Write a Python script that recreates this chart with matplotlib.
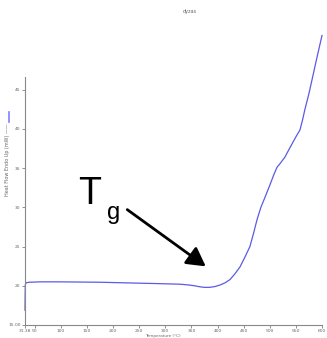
import matplotlib
matplotlib.use("Agg")
import matplotlib.pyplot as plt

temperature = [31.38, 31.5, 31.7, 32.0, 33.0, 35.0, 40.0, 60.0, 98.0, 175.0, 271.0, 300.0, 328.0,
               345.0, 356.0, 366.0, 375.0, 385.0, 395.0, 405.0, 415.0, 424.0, 433.0, 443.0,
               452.0, 462.0, 469.0, 475.5, 483.0, 491.0, 500.0, 508.0, 513.8, 520.0, 529.0,
               537.0, 544.4, 551.0, 557.8, 563.0, 567.0, 575.0, 582.7, 590.0, 600.0]
heat_flow = [16.9, 17.8, 19.0, 20.1, 20.35, 20.4, 20.45, 20.5, 20.5, 20.45, 20.3, 20.25, 20.2,
             20.1, 20.0, 19.87, 19.8, 19.8, 19.9, 20.1, 20.4, 20.8, 21.5, 22.4,
             23.6, 25.0, 26.7, 28.4, 30.0, 31.3, 32.8, 34.2, 35.1, 35.6, 36.4,
             37.4, 38.3, 39.1, 39.85, 41.2, 42.4, 44.5, 46.8, 49.0, 51.9]

xticks = [31.38, 50, 100, 150, 200, 250, 300, 350, 400, 450, 500, 550, 600]
xtick_labels = ["31.38", "50", "100", "150", "200", "250", "300", "350", "400", "450", "500", "550", "600"]
yticks = [15, 20, 25, 30, 35, 40, 45]
ytick_labels = ["15.00", "20", "25", "30", "35", "40", "45"]

fig = plt.figure(figsize=(3.27, 3.38), dpi=100)
ax = fig.add_axes([25/327, 1-325/338, (322-25)/327, (325-30)/338])
ax.plot(temperature, heat_flow, color="#5a5ae6", lw=0.9, clip_on=False)
ax.set_xlim(31.38, 600)
ax.set_ylim(15, 52.6)
for s in ["top", "right"]:
    ax.spines[s].set_visible(False)
ax.spines["left"].set_bounds(15, 46.6)
ax.spines["left"].set_color("#888888")
ax.spines["bottom"].set_color("#888888")
ax.spines["left"].set_linewidth(0.8)
ax.spines["bottom"].set_linewidth(0.8)
ax.set_xticks(xticks)
ax.set_xticklabels(xtick_labels)
ax.set_yticks(yticks)
ax.set_yticklabels(ytick_labels)
ax.tick_params(axis="both", labelsize=3.2, colors="#666666", length=2, width=0.5, pad=1.2)

fig.text(163/327, 1-336.5/338, "Temperature (°C)", fontsize=3.0, color="#666666", ha="center", va="center")
fig.text(190/327, 1-12/338, "dyzas", fontsize=3.5, color="#666666", ha="center", va="center")
fig.text(8/327, 1-160/338, "Heat Flow Endo Up (mW) ——", fontsize=3.5, color="#666666",
         ha="center", va="center", rotation=90)
fig.add_artist(plt.Line2D([9/327, 9/327], [1-122/338, 1-112/338], color="#8080ff", lw=1.2))

fig.text(78/327, 1-194/338, "T", fontsize=27, family="Liberation Sans", ha="left", va="center")
fig.text(107/327, 1-213/338, "g", fontsize=17, family="Liberation Sans", ha="left", va="center")
fig.add_artist(matplotlib.patches.FancyArrowPatch(
    (125/327, 1-208/338), (208/327, 1-268/338), transform=fig.transFigure,
    arrowstyle="-|>,head_length=4.5,head_width=2.5", color="black", lw=2.0, mutation_scale=2.5))

fig.savefig("out.png", dpi=100)
